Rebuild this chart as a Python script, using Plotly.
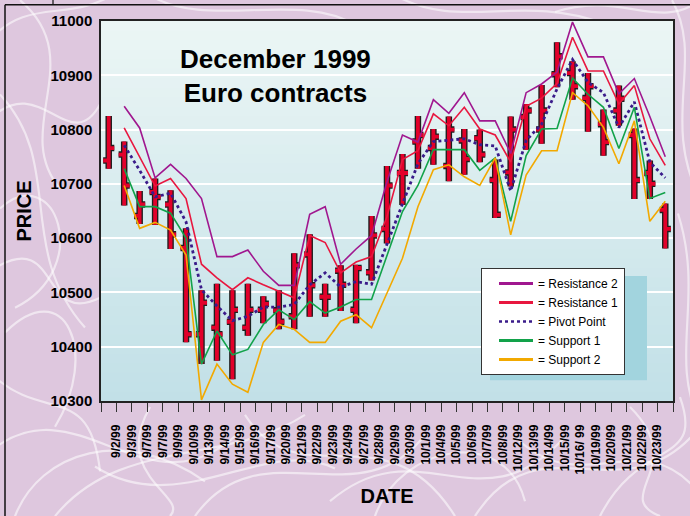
import plotly.graph_objects as go

# ---------------- data ----------------
date_labels = ["9/2/99", "9/3/99", "9/7/99", "9/7/99", "9/9/99", "9/10/99", "9/13/99", "9/14/99",
               "9/15/99", "9/16/99", "9/17/99", "9/20/99", "9/21/99", "9/22/99", "9/23/99", "9/24/99",
               "9/27/99", "9/28/99", "9/29/99", "9/30/99", "10/1/99", "10/4/99", "10/5/99", "10/6/99",
               "10/7/99", "10/8/99", "10/12/99", "10/13/99", "10/14/99", "10/15/99", "10/16/ 99",
               "10/19/99", "10/20/99", "10/21/99", "10/22/99", "10/23/99"]

open_p = [10743, 10754, 10641, 10685, 10662, 10582, 10423, 10435, 10446, 10435, 10468, 10467, 10456,
          10570, 10492, 10540, 10468, 10537, 10617, 10720, 10778, 10766, 10733, 10780, 10784, 10707,
          10721, 10823, 10800, 10902, 10904, 10858, 10810, 10835, 10790, 10720, 10652]
high_p = [10825, 10778, 10687, 10710, 10688, 10618, 10504, 10516, 10504, 10516, 10493, 10504, 10572,
          10607, 10516, 10550, 10551, 10641, 10733, 10755, 10825, 10801, 10824, 10801, 10800, 10745,
          10824, 10847, 10882, 10961, 10926, 10904, 10837, 10881, 10802, 10743, 10664]
low_p = [10728, 10660, 10626, 10624, 10580, 10408, 10368, 10374, 10340, 10420, 10443, 10432, 10432,
         10455, 10455, 10466, 10443, 10522, 10590, 10661, 10728, 10735, 10705, 10717, 10740, 10637,
         10695, 10763, 10774, 10878, 10855, 10796, 10752, 10807, 10672, 10672, 10581]
close_p = [10766, 10697, 10662, 10676, 10607, 10423, 10481, 10423, 10468, 10468, 10479, 10446, 10550,
           10513, 10492, 10514, 10545, 10605, 10697, 10720, 10790, 10787, 10800, 10746, 10754, 10643,
           10800, 10835, 10835, 10935, 10880, 10880, 10777, 10857, 10707, 10700, 10617]

resistance2 = [None, 10843, 10803, 10711, 10736, 10710, 10673, 10566, 10566, 10578, 10539, 10513, 10513,
               10644, 10658, 10552, 10580, 10605, 10704, 10790, 10777, 10855, 10830, 10868, 10816, 10816,
               10756, 10868, 10884, 10906, 10998, 10934, 10934, 10866, 10894, 10824, 10750]
resistance1 = [None, 10803, 10750, 10696, 10710, 10673, 10552, 10527, 10505, 10527, 10514, 10502, 10490,
               10605, 10592, 10536, 10556, 10566, 10640, 10745, 10761, 10829, 10807, 10841, 10801, 10790,
               10740, 10843, 10858, 10885, 10970, 10908, 10908, 10847, 10881, 10783, 10734]
pivot_point = [None, 10771, 10725, 10676, 10683, 10630, 10505, 10475, 10448, 10456, 10473, 10473, 10478,
               10514, 10536, 10510, 10520, 10515, 10590, 10665, 10737, 10778, 10780, 10783, 10772, 10770,
               10687, 10780, 10810, 10875, 10929, 10887, 10868, 10804, 10851, 10740, 10711]
support1 = [None, 10728, 10658, 10658, 10646, 10600, 10368, 10429, 10385, 10395, 10441, 10468, 10450,
            10483, 10462, 10473, 10487, 10487, 10569, 10649, 10697, 10763, 10763, 10763, 10725, 10748,
            10631, 10752, 10801, 10802, 10895, 10865, 10841, 10765, 10841, 10673, 10684]
support2 = [None, 10697, 10618, 10629, 10615, 10569, 10302, 10368, 10331, 10316, 10408, 10441, 10432,
            10408, 10408, 10447, 10459, 10435, 10500, 10563, 10658, 10726, 10735, 10713, 10697, 10748,
            10606, 10716, 10761, 10761, 10868, 10844, 10804, 10737, 10816, 10631, 10668]

y_ticks = [10300, 10400, 10500, 10600, 10700, 10800, 10900, 11000]

# ---------------- figure ----------------
W, H = 690, 516
ML, MR, MT, MB = 101, 17, 21, 112
PW, PH = W - ML - MR, H - MT - MB

def px(x, y):
    return (x - ML) / PW, (H - MB - y) / PH

n = len(open_p)
xs = list(range(n))

fig = go.Figure()

series = [
    ("= Resistance 2", resistance2, "#A0178F", None, 1.6),
    ("= Resistance 1", resistance1, "#E8173F", None, 1.6),
    ("= Pivot Point", pivot_point, "#3A1B8A", "dot", 2.8),
    ("= Support 1", support1, "#12A24A", None, 1.6),
    ("= Support 2", support2, "#F2A900", None, 1.6),
]
for name, vals, col, dash, w in series:
    fig.add_trace(go.Scatter(x=xs, y=vals, mode="lines", name=name, showlegend=False,
                             line=dict(color=col, width=w, dash=dash),
                             hoverinfo="skip"))

for col, w in (("#1E1E1E", 6.5), ("#E2002A", 3.8)):
    fig.add_trace(go.Ohlc(x=xs, open=open_p, high=high_p, low=low_p, close=close_p,
                          increasing=dict(line=dict(color=col, width=w)),
                          decreasing=dict(line=dict(color=col, width=w)),
                          tickwidth=0.36, showlegend=False, hoverinfo="skip"))

# legend entries (thicker key lines, as in the original legend)
for name, vals, col, dash, w in series:
    fig.add_trace(go.Scatter(x=[None], y=[None], mode="lines", name=name, showlegend=True,
                             line=dict(color=col, width=(2.4 if dash else 3), dash=dash),
                             hoverinfo="skip"))

shapes = []
# plot-area vertical gradient
N = 40
top_c = (236, 246, 245)
bot_c = (193, 224, 231)
for k in range(N):
    t = (k + 0.5) / N
    c = tuple(int(round(bot_c[i] + (top_c[i] - bot_c[i]) * t)) for i in range(3))
    shapes.append(dict(type="rect", xref="x", yref="y", layer="below",
                       x0=-0.5, x1=n - 0.5,
                       y0=10300 + 700 * k / N, y1=10300 + 700 * (k + 1) / N + 1,
                       line=dict(width=0), fillcolor="rgb(%d,%d,%d)" % c))

# decorative background scribbles (paper texture)
curves = [
    [(-10, 40), (30, -5), (70, 25), (120, -10)],
    [(-10, 120), (40, 70), (70, 160), (100, 105)],
    [(0, 210), (55, 160), (95, 270), (15, 310)],
    [(5, 335), (65, 275), (100, 355), (55, 430)],
    [(-10, 455), (80, 380), (150, 530), (245, 430)],
    [(55, 520), (120, 440), (225, 470), (305, 418)],
    [(195, 520), (260, 428), (360, 525), (425, 438)],
    [(330, 505), (420, 428), (480, 535), (565, 440)],
    [(475, 520), (540, 418), (625, 525), (700, 430)],
    [(600, 520), (640, 440), (705, 470), (680, 400)],
    [(672, 0), (705, 60), (660, 120), (700, 200)],
    [(678, 215), (705, 300), (668, 360), (700, 425)],
    [(0, 95), (65, 165), (15, 250), (85, 330)],
    [(15, 520), (40, 455), (125, 428), (205, 485)],
    [(95, 470), (180, 525), (265, 438), (335, 472)],
    [(375, 520), (400, 448), (505, 428), (525, 505)],
    [(150, -5), (205, 30), (300, -10), (355, 25)],
    [(395, -5), (460, 32), (520, -8), (605, 24)],
    [(555, 12), (620, -10), (660, 32), (700, 0)],
    [(-5, 380), (45, 425), (90, 385), (100, 475)],
    [(515, 440), (580, 505), (640, 428), (695, 492)],
    [(245, 418), (300, 505), (385, 408), (455, 520)],
    [(20, 0), (90, 60), (10, 130), (60, 190)],
    [(-5, 270), (60, 230), (40, 330), (100, 300)],
    [(150, 410), (110, 480), (190, 500), (170, 520)],
    [(630, 410), (690, 470), (610, 500), (660, 520)],
]
for cv in curves:
    pts = [px(x, y) for x, y in cv]
    path = "M %.4f,%.4f C %.4f,%.4f %.4f,%.4f %.4f,%.4f" % (pts[0] + pts[1] + pts[2] + pts[3])
    shapes.append(dict(type="path", xref="paper", yref="paper", layer="below", path=path,
                       line=dict(color="rgba(255,255,255,0.55)", width=2.2)))

# legend shadow
sx0, sy0 = px(490, 383)
sx1, sy1 = px(647, 278)
shapes.append(dict(type="rect", xref="paper", yref="paper", layer="above",
                   x0=sx0, x1=sx1, y0=sy0, y1=sy1,
                   line=dict(width=0), fillcolor="#A2D4DE"))

# outer frame (top & left)
fx0, fy0 = px(5, 4.5)
fx1, _ = px(700, 4.5)
_, fyb = px(5, 530)
shapes.append(dict(type="line", xref="paper", yref="paper", layer="above",
                   x0=fx0, x1=fx1, y0=fy0, y1=fy0, line=dict(color="#111", width=1.5)))
shapes.append(dict(type="line", xref="paper", yref="paper", layer="above",
                   x0=fx0, x1=fx0, y0=fy0, y1=fyb, line=dict(color="#111", width=1.5)))
tx, _ = px(53, 0)
_, ty = px(53, -2)
shapes.append(dict(type="line", xref="paper", yref="paper", layer="above",
                   x0=tx, x1=tx, y0=fy0, y1=ty, line=dict(color="#111", width=1.2)))

tx_title, ty_title = px(275, 76)
lx, ly = px(481, 270)

FONT = "Liberation Sans, Arial, sans-serif"

fig.update_layout(
    width=W, height=H,
    margin=dict(l=ML, r=MR, t=MT, b=MB),
    paper_bgcolor="#DEC7DE",
    plot_bgcolor="#D6EBEE",
    font=dict(family=FONT, color="#000"),
    shapes=shapes,
    showlegend=True,
    legend=dict(x=lx, y=ly, xanchor="left", yanchor="top", bgcolor="white",
                bordercolor="#333", borderwidth=1, font=dict(size=12, family=FONT),
                indentation=12, itemwidth=34, entrywidth=106, entrywidthmode="pixels",
                tracegroupgap=0, traceorder="normal"),
    annotations=[dict(text="December 1999<br>Euro contracts", x=tx_title, y=ty_title,
                      xref="paper", yref="paper", showarrow=False,
                      xanchor="center", yanchor="middle",
                      font=dict(size=26, family=FONT, weight="bold", color="#000"))],
    xaxis=dict(range=[-0.5, n - 0.5], tickmode="array",
               tickvals=[i - 0.5 for i in range(n + 1)],
               ticktext=[""] + date_labels + [""],
               tickangle=-90, ticks="outside", ticklen=9, tickcolor="#333", tickwidth=1,
               ticklabelstandoff=8,
               showline=True, mirror=True, linecolor="#222", linewidth=1.5,
               showgrid=False, zeroline=False, rangeslider=dict(visible=False),
               tickfont=dict(size=12, family=FONT, weight="bold", color="#000"),
               title=dict(text="DATE", standoff=15,
                          font=dict(size=20, family=FONT, weight="bold", color="#000"))),
    yaxis=dict(range=[10300, 11000], tickmode="array", tickvals=y_ticks,
               ticktext=[str(v) for v in y_ticks],
               showgrid=True, gridcolor="white", gridwidth=1.5, zeroline=False,
               showline=True, mirror=True, linecolor="#222", linewidth=1.5,
               ticks="", ticklabelstandoff=4,
               tickfont=dict(size=15, family=FONT, weight="bold", color="#000"),
               title=dict(text="PRICE", standoff=14,
                          font=dict(size=20, family=FONT, weight="bold", color="#000"))),
)

fig.write_html("out.html", config={"displayModeBar": False},
               post_script="document.body.style.margin='0px';")
